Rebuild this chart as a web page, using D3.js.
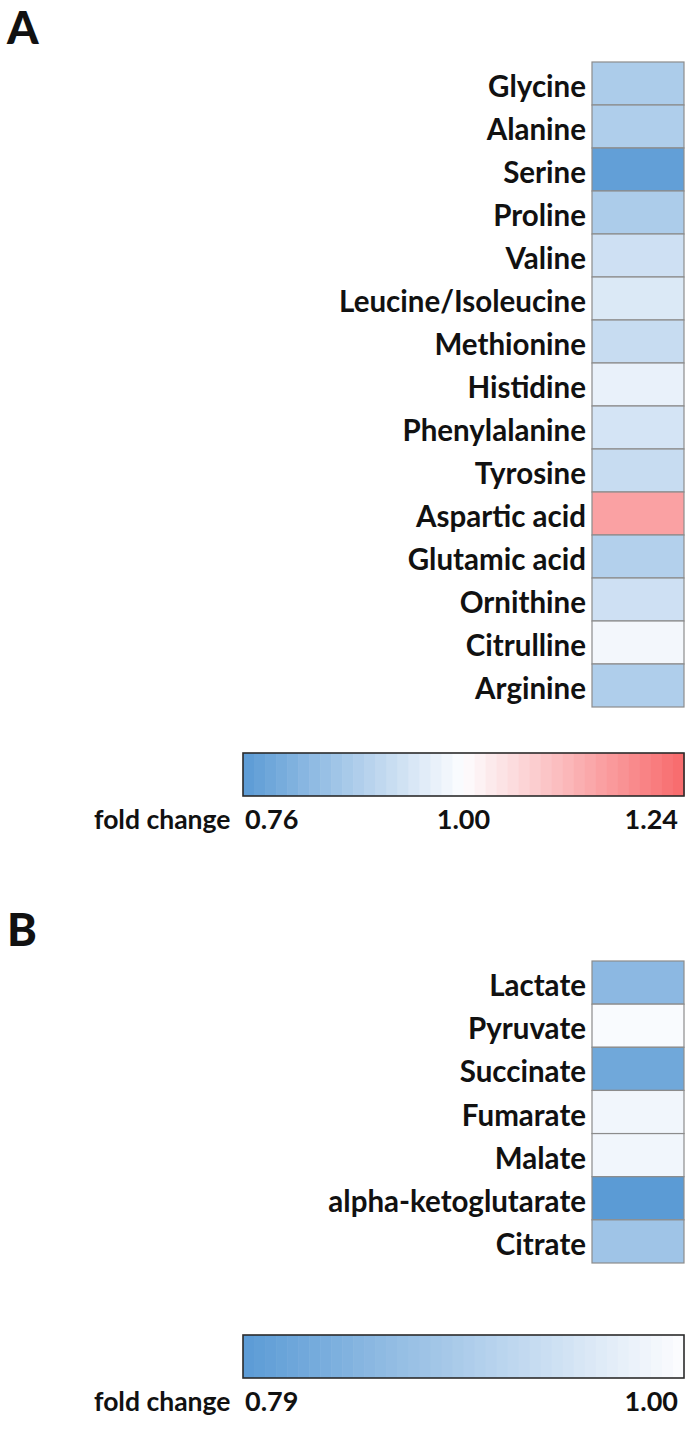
<!DOCTYPE html>
<html>
<head>
<meta charset="utf-8">
<script src="https://cdn.jsdelivr.net/npm/d3@7"></script>
<style>
  html, body { margin: 0; padding: 0; background: #fff; }
  text { font-family: Lato, "Open Sans", sans-serif; font-weight: 700; fill: #111; }
</style>
</head>
<body>
<svg id="chart" width="693" height="1430"></svg>
<script>
// ---- Data ----
const aminoAcids = ["Glycine","Alanine","Serine","Proline","Valine","Leucine/Isoleucine","Methionine","Histidine","Phenylalanine","Tyrosine","Aspartic acid","Glutamic acid","Ornithine","Citrulline","Arginine"];
const aminoFold = [0.88, 0.885, 0.77, 0.88, 0.93, 0.95, 0.92, 0.97, 0.94, 0.92, 1.15, 0.89, 0.93, 0.985, 0.885];
const aminoTicks = [0.76, 1.00, 1.24];

const tcaMetabolites = ["Lactate","Pyruvate","Succinate","Fumarate","Malate","alpha-ketoglutarate","Citrate"];
const tcaFold = [0.853, 0.995, 0.817, 0.985, 0.985, 0.79, 0.878];
const tcaTicks = [0.79, 1.00];

const blue = "#5b9bd5", white = "#fdfdff", red = "#f8696b";
const labelSize = "29.5px";

const svg = d3.select("#chart");

function panel(opts) {
  const g = svg.append("g");
  g.append("text").attr("x", 7).attr("y", opts.letterY)
    .style("font-size", "45px").style("font-weight", 900)
    .text(opts.letter);

  const y = d3.scaleBand().domain(opts.names).range([opts.top, opts.bottom]).padding(0);
  const x0 = 592, x1 = 684;

  g.selectAll("rect.cell").data(opts.names).join("rect")
    .attr("class", "cell")
    .attr("x", x0).attr("y", d => y(d))
    .attr("width", x1 - x0).attr("height", y.bandwidth())
    .attr("fill", (d, i) => opts.color(opts.values[i]))
    .attr("stroke", "#8c8c8c").attr("stroke-width", 1.2);

  g.selectAll("text.lab").data(opts.names).join("text")
    .attr("class", "lab")
    .attr("x", 586).attr("y", d => y(d) + y.bandwidth() / 2 + 2)
    .attr("text-anchor", "end").attr("dominant-baseline", "central")
    .style("font-size", labelSize)
    .text(d => d);

  const bx0 = 243, bx1 = 684;
  const dom = opts.color.domain();
  const lo = dom[0], hi = dom[dom.length - 1];
  const xb = d3.scaleLinear().domain([lo, hi]).range([bx0, bx1]);
  const steps = 40;
  const stepVals = d3.range(steps).map(i => lo + (hi - lo) * i / steps);
  const sw = (hi - lo) / steps;
  g.selectAll("rect.step").data(stepVals).join("rect")
    .attr("class", "step")
    .attr("x", d => xb(d)).attr("y", opts.barTop)
    .attr("width", d => xb(d + sw) - xb(d) + 0.6).attr("height", opts.barH)
    .attr("fill", d => opts.color(d + sw / 2));
  g.append("rect").attr("x", bx0).attr("y", opts.barTop)
    .attr("width", bx1 - bx0).attr("height", opts.barH)
    .attr("fill", "none").attr("stroke", "#2b2b2b").attr("stroke-width", 1.6);

  const ly = opts.barTop + opts.barH + 33;
  g.append("text").attr("x", 94).attr("y", ly).style("font-size", "26.5px").text("fold change");
  opts.ticks.forEach((t, i) => {
    const anchor = i === 0 ? "start" : (i === opts.ticks.length - 1 ? "end" : "middle");
    const tx = i === 0 ? bx0 + 2 : (i === opts.ticks.length - 1 ? bx1 - 6 : xb(t));
    g.append("text").attr("x", tx).attr("y", ly)
      .attr("text-anchor", anchor).style("font-size", "27px")
      .text(t.toFixed(2));
  });
}

panel({
  letter: "A", letterY: 44,
  names: aminoAcids, values: aminoFold,
  top: 62, bottom: 707,
  color: d3.scaleLinear().domain([0.76, 1.00, 1.24]).range([blue, white, red]).interpolate(d3.interpolateRgb),
  ticks: aminoTicks,
  barTop: 753, barH: 43
});

panel({
  letter: "B", letterY: 946,
  names: tcaMetabolites, values: tcaFold,
  top: 961, bottom: 1263,
  color: d3.scaleLinear().domain([0.79, 1.00]).range([blue, white]).interpolate(d3.interpolateRgb),
  ticks: tcaTicks,
  barTop: 1335, barH: 43
});
</script>
</body>
</html>
